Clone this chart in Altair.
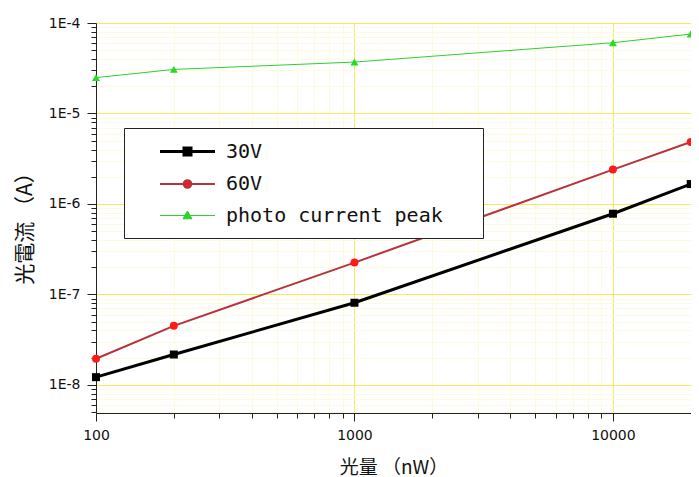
import altair as alt
import pandas as pd

# ---- data ----
light_nw = [100, 200, 1000, 10000, 20000]
series_names = ["30V", "60V", "photo current peak"]
current_30v = [1.22e-8, 2.17e-8, 8.1e-8, 7.8e-7, 1.66e-6]
current_60v = [1.95e-8, 4.5e-8, 2.25e-7, 2.4e-6, 4.85e-6]
current_peak = [2.49e-5, 3.07e-5, 3.7e-5, 6.05e-5, 7.55e-5]

x_tick_values = [100, 200, 300, 400, 500, 600, 700, 800, 900,
                 1000, 2000, 3000, 4000, 5000, 6000, 7000, 8000, 9000,
                 10000, 20000]
y_tick_values = [5e-9, 6e-9, 7e-9, 8e-9, 9e-9,
                 1e-8, 2e-8, 3e-8, 4e-8, 5e-8, 6e-8, 7e-8, 8e-8, 9e-8,
                 1e-7, 2e-7, 3e-7, 4e-7, 5e-7, 6e-7, 7e-7, 8e-7, 9e-7,
                 1e-6, 2e-6, 3e-6, 4e-6, 5e-6, 6e-6, 7e-6, 8e-6, 9e-6,
                 1e-5, 2e-5, 3e-5, 4e-5, 5e-5, 6e-5, 7e-5, 8e-5, 9e-5,
                 1e-4]

marker_colors = ["#000000", "#ff1a1a", "#22dd22"]
line_colors = ["#000000", "#b8323c", "#33cc33"]
line_widths = [3, 1, 1.5]
marker_shapes = ["square", "circle", "triangle-up"]
marker_sizes = [64, 64, 95]
legend_paths = [
    "M-2.75,0H2.75M-0.35,-0.35H0.35V0.35H-0.35ZM27.7,0",
    "M-2.75,0H2.75M-0.38,0A0.38,0.38 0 1,0 0.38,0A0.38,0.38 0 1,0 -0.38,0ZM27.7,0",
    "M-2.75,0H2.75M0,-0.45L0.45,0.33H-0.45ZM27.7,0",
]

rows = []
for name, vals in zip(series_names, [current_30v, current_60v, current_peak]):
    for xv, yv in zip(light_nw, vals):
        rows.append({"series": name, "x": xv, "y": yv})
df = pd.DataFrame(rows)

decade = "abs(log(datum.value)/LN10 - round(log(datum.value)/LN10)) < 0.001"
major_grid = "#f3ea5c"
minor_grid = "#fcfadf"

x_axis = alt.Axis(
    values=x_tick_values,
    labelExpr=f"({decade}) ? format(datum.value, 'd') : ''",
    grid=True,
    gridColor={"condition": {"test": decade, "value": major_grid}, "value": minor_grid},
    tickSize={"condition": {"test": decade, "value": 8}, "value": 5},
    labelFont="DejaVu Sans", labelFontSize=14, labelColor="#111", labelPadding=7,
    labelOverlap=False, labelFlush=False,
    title="光量 （nW）", titleFont="Noto Sans CJK JP", titleFontSize=19,
    titleFontWeight="normal", titleColor="#111", titleY=45,
    domainColor="#222", tickColor="#222",
)
y_axis = alt.Axis(
    values=y_tick_values,
    labelExpr=f"({decade}) ? '1E-' + round(-log(datum.value)/LN10) : ''",
    grid=True,
    gridColor={"condition": {"test": decade, "value": major_grid}, "value": minor_grid},
    tickSize={"condition": {"test": decade, "value": 9}, "value": 5},
    labelFont="DejaVu Sans", labelFontSize=14, labelColor="#111", labelPadding=7,
    labelOverlap=False, labelFlush=False,
    title="光電流 （A）", titleFont="Noto Sans CJK JP", titleFontSize=21,
    titleFontWeight="normal", titleColor="#111", titleX=-71, titleY=200,
    titleBaseline="middle",
    domainColor="#222", tickColor="#222",
)

x_enc = alt.X("x:Q", scale=alt.Scale(type="log", domain=[100, 20050], nice=False), axis=x_axis)
y_enc = alt.Y("y:Q", scale=alt.Scale(type="log", domain=[4.9e-9, 1e-4], nice=False), axis=y_axis)

base = alt.Chart(df)

lines = base.mark_line().encode(
    x=x_enc, y=y_enc,
    stroke=alt.Stroke("series:N", scale=alt.Scale(domain=series_names, range=line_colors), legend=None),
    strokeWidth=alt.StrokeWidth("series:N", scale=alt.Scale(domain=series_names, range=line_widths), legend=None),
    detail="series:N",
)

points = base.mark_point(filled=True, opacity=1).encode(
    x=x_enc, y=y_enc,
    fill=alt.Fill("series:N", scale=alt.Scale(domain=series_names, range=marker_colors), legend=None),
    shape=alt.Shape("series:N", scale=alt.Scale(domain=series_names, range=marker_shapes), legend=None),
    size=alt.Size("series:N", scale=alt.Scale(domain=series_names, range=marker_sizes), legend=None),
)

leg = alt.Legend(
    title=None, orient="none", legendX=28, legendY=105,
    symbolSize=400, symbolOpacity=1, symbolOffset=40, labelOffset=27,
    labelFont="DejaVu Sans Mono", labelFontSize=20, labelColor="#111", labelLimit=400,
    rowPadding=11, padding=12,
    strokeColor="#222", fillColor="white",
)

legend_layer = base.mark_point(filled=True, opacity=0).encode(
    x=x_enc, y=y_enc,
    fill=alt.Fill("series:N", scale=alt.Scale(domain=series_names, range=marker_colors), legend=leg),
    stroke=alt.Stroke("series:N", scale=alt.Scale(domain=series_names, range=line_colors), legend=leg),
    strokeWidth=alt.StrokeWidth("series:N", scale=alt.Scale(domain=series_names, range=line_widths), legend=leg),
    shape=alt.Shape("series:N", scale=alt.Scale(domain=series_names, range=legend_paths), legend=leg),
)

chart = alt.layer(lines, points, legend_layer).resolve_scale(
    fill="independent", stroke="independent", strokeWidth="independent",
    shape="independent", size="independent",
).properties(
    width=595, height=390,
    autosize=alt.AutoSizeParams(type="none"),
    padding={"left": 88, "top": 15, "right": 0, "bottom": 66},
).configure_view(stroke=None).configure(background="white")

chart.save("out.html", embed_options={"renderer": "svg", "actions": False})
